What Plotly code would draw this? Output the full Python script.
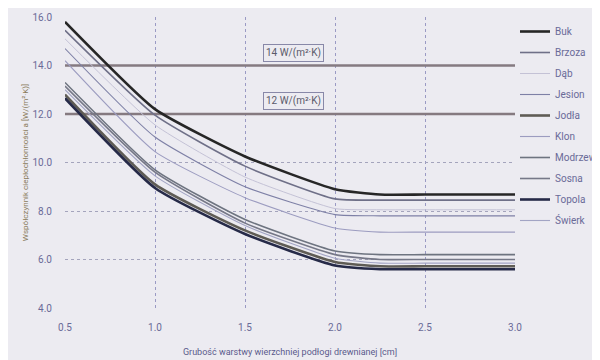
import plotly.graph_objects as go

x_cm = [0.5, 1.0, 1.5, 2.0, 2.25, 2.5, 3.0]
series_names = ["Buk", "Brzoza", "Dąb", "Jesion", "Jodła", "Klon", "Modrzew", "Sosna", "Topola", "Świerk"]

buk     = [15.8, 12.2, 10.25, 8.9, 8.68, 8.68, 8.68]
brzoza  = [15.45, 11.95, 9.85, 8.5, 8.45, 8.45, 8.45]
dab     = [15.1, 11.55, 9.4, 8.1, 8.05, 8.05, 8.05]
jesion  = [14.7, 11.05, 9.0, 7.85, 7.8, 7.8, 7.8]
klon    = [14.2, 10.45, 8.55, 7.3, 7.13, 7.13, 7.13]
modrzew = [13.3, 9.7, 7.65, 6.35, 6.2, 6.2, 6.2]
sosna   = [13.15, 9.6, 7.5, 6.2, 6.0, 6.0, 6.0]
swierk  = [13.0, 9.45, 7.4, 6.05, 5.85, 5.85, 5.85]
jodla   = [12.8, 9.1, 7.2, 5.9, 5.72, 5.72, 5.72]
topola  = [12.65, 8.95, 7.05, 5.75, 5.6, 5.6, 5.6]

ref_levels = [14, 12]
ref_labels = ["14 W/(m²·K)", "12 W/(m²·K)"]
x_ticks = [0.5, 1.0, 1.5, 2.0, 2.5, 3.0]
y_ticks = [4, 6, 8, 10, 12, 14, 16]

data = {
    "Buk": buk, "Brzoza": brzoza, "Dąb": dab, "Jesion": jesion, "Jodła": jodla,
    "Klon": klon, "Modrzew": modrzew, "Sosna": sosna, "Topola": topola, "Świerk": swierk,
}
styles = {
    "Buk": ("#262626", 2.6),
    "Brzoza": ("#6f7088", 1.6),
    "Dąb": ("#c4c2d6", 1.0),
    "Jesion": ("#7e80a6", 1.1),
    "Jodła": ("#5f5c55", 2.6),
    "Klon": ("#9c9cc0", 1.1),
    "Modrzew": ("#6e7480", 1.6),
    "Sosna": ("#767888", 1.6),
    "Topola": ("#262a48", 2.6),
    "Świerk": ("#a2a4c4", 1.1),
}

FONT = "Liberation Sans Narrow, Roboto, sans-serif"

fig = go.Figure()

for lvl in ref_levels:
    fig.add_trace(go.Scatter(x=[x_ticks[0], x_ticks[-1]], y=[lvl, lvl], mode="lines",
                             line=dict(color="#857a80", width=2.6), showlegend=False,
                             hoverinfo="skip"))

for name in series_names:
    c, w = styles[name]
    fig.add_trace(go.Scatter(x=x_cm, y=data[name], mode="lines", name=name,
                             legendgroup=name,
                             line=dict(color=c, width=w, shape="spline", smoothing=0.5)))

for lvl, lab in zip(ref_levels, ref_labels):
    fig.add_annotation(x=1.77, y=lvl + 0.52, text=lab, showarrow=False,
                       font=dict(size=10, color="#5a5a6a", family=FONT),
                       bordercolor="#8888a8", borderwidth=1, borderpad=2,
                       bgcolor="rgba(0,0,0,0)")

tick_font = dict(size=10, color="#6a6a98", family=FONT)

fig.update_layout(
    width=592, height=352,
    margin=dict(l=57, r=85, t=9, b=52, autoexpand=False),
    paper_bgcolor="#ecebf1",
    plot_bgcolor="#ecebf1",
    showlegend=True,
    legend=dict(x=1.0, y=1.0, xanchor="left", yanchor="top",
                font=dict(size=10, color="#6a6a98", family=FONT),
                bgcolor="rgba(0,0,0,0)", tracegroupgap=2, itemwidth=30),
    xaxis=dict(range=[0.5, 3.0], tickvals=x_ticks, ticktext=[f"{v:.1f}" for v in x_ticks],
               showgrid=True, gridcolor="#9a9ac4", griddash="dot", gridwidth=1,
               zeroline=False, showline=False, tickfont=tick_font, ticks="",
               ticklabelstandoff=12,
               title=dict(text="Grubość warstwy wierzchniej podłogi drewnianej [cm]",
                          font=dict(size=9, color="#5a5a8c", family=FONT),
                          standoff=16)),
    yaxis=dict(range=[4, 16], tickvals=y_ticks, ticktext=[f"{v:.1f}" for v in y_ticks],
               showgrid=True, gridcolor="#a4a4bc", griddash="dot", gridwidth=1,
               zeroline=False, showline=False, tickfont=tick_font, ticks="",
               ticklabelstandoff=12,
               title=dict(text="Współczynnik ciepłochłonności a [W/(m²·K)]",
                          font=dict(size=8, color="#8a7c5c", family=FONT),
                          standoff=2)),
)

fig.write_html("out.html")
